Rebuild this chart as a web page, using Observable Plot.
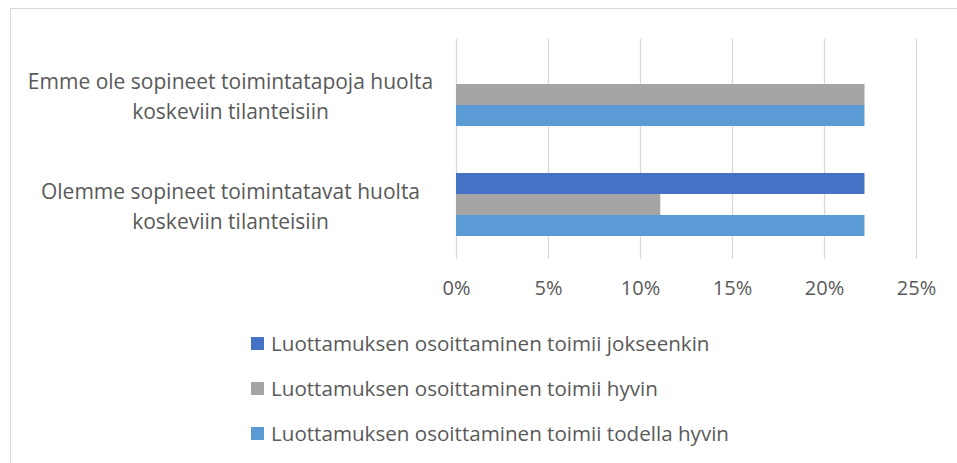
<!DOCTYPE html>
<html>
<head>
<meta charset="utf-8">
<script src="https://cdn.jsdelivr.net/npm/d3@7"></script>
<script src="https://cdn.jsdelivr.net/npm/@observablehq/plot@0.6"></script>
<style>
  html, body { margin: 0; padding: 0; background: #fff; overflow: hidden; width: 957px; height: 463px; }
  #frame { position: absolute; left: 10px; top: 8px; width: 960px; height: 470px; border: 1px solid #D9D9D9; box-sizing: border-box; }
  #chart { position: absolute; left: 0; top: 0; }
  #legend { position: absolute; left: 251px; top: 330px; font-family: "Open Sans", sans-serif; font-size: 20.6px; color: #595959; }
  .item { display: flex; align-items: center; height: 26px; margin-bottom: 19px; white-space: nowrap; }
  .sw { width: 13px; height: 13px; margin-right: 7px; flex: none; }
</style>
</head>
<body>
<div id="frame"></div>
<div id="chart"></div>
<div id="legend"></div>
<script>
const categories = [
  "Emme ole sopineet toimintatapoja huolta koskeviin tilanteisiin",
  "Olemme sopineet toimintatavat huolta koskeviin tilanteisiin"
];
const categoryLines = [
  ["Emme ole sopineet toimintatapoja huolta", "koskeviin tilanteisiin"],
  ["Olemme sopineet toimintatavat huolta", "koskeviin tilanteisiin"]
];
const series = [
  "Luottamuksen osoittaminen toimii jokseenkin",
  "Luottamuksen osoittaminen toimii hyvin",
  "Luottamuksen osoittaminen toimii todella hyvin"
];
const jokseenkin = [0, 0.222];
const hyvin = [0.222, 0.111];
const todellaHyvin = [0.222, 0.222];
const colors = ["#4472C4", "#A5A5A5", "#5B9BD5"];
const xTicks = [0, 0.05, 0.10, 0.15, 0.20, 0.25];

const seriesValues = [jokseenkin, hyvin, todellaHyvin];
const data = [];
categories.forEach((c, i) => {
  series.forEach((s, j) => {
    data.push({category: c, series: s, value: seriesValues[j][i]});
  });
});

const chart = Plot.plot({
  width: 957,
  height: 310,
  marginLeft: 456,
  marginRight: 41,
  marginTop: 38,
  marginBottom: 51,
  style: {fontFamily: "'Open Sans', sans-serif", fontSize: "20px", color: "#595959", background: "transparent", overflow: "visible"},
  x: {domain: [0, 0.25], label: null},
  fy: {domain: categories, padding: 0, label: null, axis: null},
  y: {domain: series, paddingInner: 0, paddingOuter: 1.07, axis: null},
  color: {domain: series, range: colors},
  marks: [
    Plot.ruleX(xTicks, {stroke: "#D9D9D9", strokeWidth: 1.3}),
    Plot.barX(data, {x: "value", y: "series", fy: "category", fill: "series"}),
    Plot.axisX({ticks: xTicks, tickSize: 0, tickPadding: 21, tickFormat: d => Math.round(d * 100) + "%", fill: "#595959", fontSize: 20, label: null}),
    Plot.text(categories, {
      fy: d => d,
      text: d => categoryLines[categories.indexOf(d)].join("\n"),
      frameAnchor: "left",
      dx: -226,
      textAnchor: "middle",
      lineHeight: 1.4,
      fill: "#595959",
      fontSize: 21
    })
  ]
});
document.getElementById("chart").appendChild(chart);

const legend = document.getElementById("legend");
series.forEach((s, i) => {
  const item = document.createElement("div");
  item.className = "item";
  const sw = document.createElement("span");
  sw.className = "sw";
  sw.style.background = colors[i];
  const t = document.createElement("span");
  t.textContent = s;
  item.appendChild(sw);
  item.appendChild(t);
  legend.appendChild(item);
});
</script>
</body>
</html>
